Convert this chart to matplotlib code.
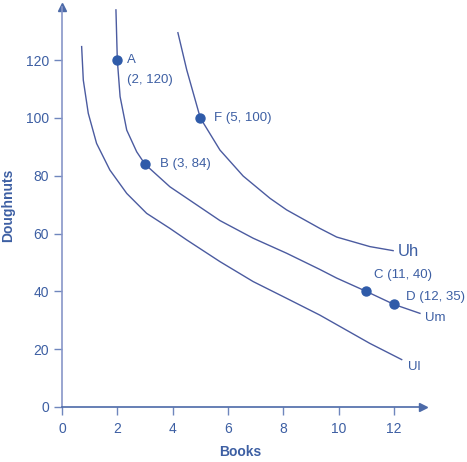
import matplotlib
matplotlib.use("Agg")
import matplotlib.pyplot as plt

plt.rcParams['font.family'] = ['Liberation Sans', 'DejaVu Sans']

# Colours
TextCol = "#3d5fa3"
LineCol = "#4b5ba0"
DotCol = "#2f5ba9"

# Indifference curves, points (Books, Doughnuts)
UlBooks = [0.71, 0.77, 0.95, 1.25, 1.73, 2.34, 3.06, 3.90, 4.51, 5.71, 6.91, 8.12, 9.32, 9.93, 11.13, 12.28]
UlDough = [124.7, 113.1, 101.6, 91.2, 82.0, 73.9, 67.0, 61.8, 57.8, 50.3, 43.4, 37.6, 31.8, 28.5, 22.0, 16.4]

UmBooks = [1.95, 2.0, 2.10, 2.34, 2.70, 3.0, 3.90, 5.71, 6.91, 8.12, 9.32, 9.93, 11.0, 12.0, 12.94]
UmDough = [137.4, 120.0, 107.4, 95.8, 88.3, 84.0, 76.2, 64.5, 58.4, 53.2, 47.6, 44.6, 40.0, 35.5, 32.4]

UhBooks = [4.19, 4.51, 5.0, 5.71, 6.55, 7.52, 8.12, 9.32, 9.93, 11.13, 11.97]
UhDough = [129.5, 116.6, 100.0, 88.9, 79.9, 72.2, 68.2, 61.8, 58.8, 55.5, 54.1]

CurveNames = ["Ul", "Um", "Uh"]

# Labelled points
PtNames = ["A", "B", "C", "D", "F"]
PtBooks = [2, 3, 11, 12, 5]
PtDough = [120, 84, 40, 35.5, 100]
PtLabels = ["A\n(2, 120)", "B (3, 84)", "C (11, 40)", "D (12, 35)", "F (5, 100)"]

XTicks = [0, 2, 4, 6, 8, 10, 12]
YTicks = [0, 20, 40, 60, 80, 100, 120]

Fig = plt.figure(figsize=(4.67, 4.62), dpi=100)
Ax = Fig.add_axes([62 / 467, 55 / 462, 361 / 467, 400 / 462])
Ax.set_xlim(0, 13.05)
Ax.set_ylim(0, 138.4)

Ax.plot(UlBooks, UlDough, color=LineCol, lw=1.0)
Ax.plot(UmBooks, UmDough, color=LineCol, lw=1.0)
Ax.plot(UhBooks, UhDough, color=LineCol, lw=1.0)

Ax.scatter(PtBooks, PtDough, s=42, color=DotCol, zorder=3)

# Point labels
LabSize = 9.5
Ax.text(2.35, 120, "A", color=TextCol, fontsize=LabSize, va="center", ha="left")
Ax.text(2.35, 113, "(2, 120)", color=TextCol, fontsize=LabSize, va="center", ha="left")
Ax.text(3.55, 84, PtLabels[1], color=TextCol, fontsize=LabSize, va="center", ha="left")
Ax.text(11.28, 45.7, PtLabels[2], color=TextCol, fontsize=LabSize, va="center", ha="left")
Ax.text(12.45, 38.2, PtLabels[3], color=TextCol, fontsize=LabSize, va="center", ha="left")
Ax.text(5.49, 100, PtLabels[4], color=TextCol, fontsize=LabSize, va="center", ha="left")

# Curve labels
Ax.text(12.15, 53.7, "Uh", color=TextCol, fontsize=12, va="center", ha="left")
Ax.text(13.12, 30.7, "Um", color=TextCol, fontsize=LabSize, va="center", ha="left")
Ax.text(12.52, 13.9, "Ul", color=TextCol, fontsize=LabSize, va="center", ha="left")

# Axes styling
for Side in ["top", "right"]:
    Ax.spines[Side].set_visible(False)
Ax.spines["left"].set_color("#8796c8")
Ax.spines["bottom"].set_color("#4c6aa8")
Ax.spines["left"].set_linewidth(1.2)
Ax.spines["bottom"].set_linewidth(1.2)

Ax.set_xticks(XTicks)
Ax.set_yticks(YTicks)
Ax.tick_params(axis="both", colors="#6f86bd", labelcolor=TextCol, labelsize=10, length=6, width=1)
Ax.tick_params(axis="x", pad=5)

# Arrow heads on the axes
Ax.plot(1, 0, ">", color="#4c6aa8", ms=6, transform=Ax.transAxes, clip_on=False)
Ax.plot(0, 1, "^", color="#4c6aa8", ms=6, transform=Ax.transAxes, clip_on=False)

Ax.set_xlabel("Books", color=TextCol, fontsize=10, fontweight="bold", va="center")
Ax.set_ylabel("Doughnuts", color=TextCol, fontsize=10, fontweight="bold", va="center")
Ax.xaxis.set_label_coords(178 / 361, -45 / 400)
Ax.yaxis.set_label_coords(-54 / 361, 202 / 400)

Fig.savefig("out.png", dpi=100)
